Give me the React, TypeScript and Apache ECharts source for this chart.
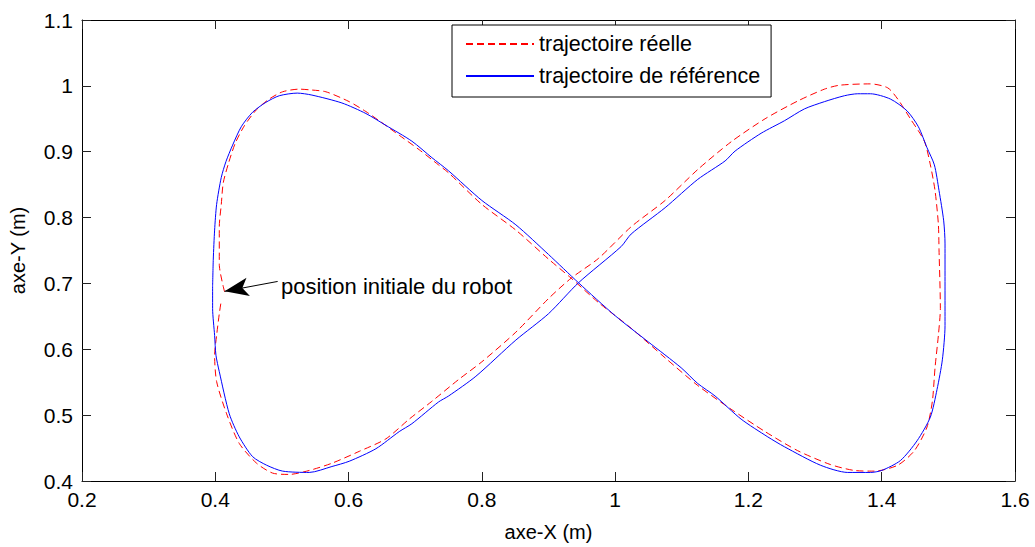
import React, { useEffect, useRef } from "react";
import * as echarts from "echarts";

const FONT = "'Liberation Sans', Arial, Helvetica, sans-serif";

const seriesNames = ["trajectoire réelle", "trajectoire de référence"];
const axisNames = { x: "axe-X (m)", y: "axe-Y (m)" };
const xRange = { min: 0.2, max: 1.6, interval: 0.2 };
const yRange = { min: 0.4, max: 1.1, interval: 0.1 };

// trajectoire réelle (red dashed), [x, y]
const realX = [
  0.414, 0.406, 0.406, 0.409, 0.412, 0.42, 0.43, 0.444, 0.462, 0.481, 0.501, 0.526, 0.541, 0.566,
  0.601, 0.626, 0.646, 0.676, 0.706, 0.735, 0.75, 0.8, 0.851, 0.9, 0.934, 0.975, 1.024, 1.075,
  1.124, 1.174, 1.225, 1.274, 1.323, 1.359, 1.389, 1.424, 1.449, 1.468, 1.476, 1.48, 1.485, 1.488,
  1.486, 1.485, 1.48, 1.473, 1.464, 1.443, 1.424, 1.409, 1.383, 1.337, 1.314, 1.274, 1.225, 1.174,
  1.124, 1.075, 1.024, 0.975, 0.934, 0.9, 0.851, 0.8, 0.765, 0.725, 0.691, 0.656, 0.616, 0.575,
  0.541, 0.511, 0.486, 0.462, 0.436, 0.417, 0.402, 0.399, 0.402, 0.406, 0.409,
];
const realY = [
  0.687, 0.729, 0.786, 0.82, 0.853, 0.883, 0.913, 0.94, 0.964, 0.98, 0.991, 0.995, 0.994, 0.991,
  0.976, 0.961, 0.947, 0.925, 0.903, 0.88, 0.868, 0.82, 0.781, 0.737, 0.708, 0.671, 0.632, 0.587,
  0.545, 0.509, 0.475, 0.446, 0.425, 0.416, 0.415, 0.424, 0.446, 0.482, 0.521, 0.572, 0.621, 0.662,
  0.751, 0.79, 0.841, 0.88, 0.916, 0.95, 0.98, 0.997, 1.003, 1.001, 0.995, 0.977, 0.95, 0.915,
  0.873, 0.826, 0.786, 0.738, 0.708, 0.677, 0.626, 0.581, 0.554, 0.521, 0.494, 0.464, 0.445, 0.427,
  0.416, 0.41, 0.412, 0.427, 0.457, 0.502, 0.551, 0.591, 0.621, 0.654, 0.674,
];

// trajectoire de référence (blue solid)
const refX = [
  0.396, 0.397, 0.399, 0.402, 0.409, 0.416, 0.426, 0.439, 0.456, 0.476, 0.496, 0.523, 0.545, 0.59,
  0.626, 0.656, 0.695, 0.725, 0.75, 0.8, 0.851, 0.9, 0.945, 1.0, 1.05, 1.099, 1.124, 1.15, 1.189,
  1.229, 1.254, 1.308, 1.349, 1.383, 1.4, 1.428, 1.453, 1.473, 1.483, 1.491, 1.495, 1.495, 1.495,
  1.493, 1.486, 1.479, 1.468, 1.455, 1.438, 1.413, 1.383, 1.364, 1.344, 1.314, 1.284, 1.254, 1.219,
  1.18, 1.165, 1.124, 1.075, 1.024, 1.009, 0.945, 0.9, 0.851, 0.791, 0.75, 0.735, 0.695, 0.676,
  0.641, 0.601, 0.575, 0.541, 0.501, 0.477, 0.456, 0.436, 0.421, 0.406, 0.401, 0.399, 0.396, 0.396,
];
const refY = [
  0.696, 0.737, 0.781, 0.82, 0.861, 0.885, 0.91, 0.938, 0.96, 0.975, 0.985, 0.989, 0.986, 0.974,
  0.958, 0.94, 0.916, 0.891, 0.871, 0.826, 0.789, 0.744, 0.701, 0.651, 0.611, 0.572, 0.548, 0.529,
  0.494, 0.467, 0.452, 0.424, 0.413, 0.413, 0.416, 0.431, 0.461, 0.497, 0.539, 0.584, 0.636, 0.696,
  0.76, 0.795, 0.841, 0.88, 0.906, 0.938, 0.962, 0.98, 0.988, 0.988, 0.985, 0.976, 0.965, 0.947,
  0.928, 0.901, 0.886, 0.858, 0.815, 0.775, 0.756, 0.701, 0.654, 0.614, 0.559, 0.529, 0.52, 0.487,
  0.475, 0.449, 0.43, 0.422, 0.413, 0.415, 0.424, 0.437, 0.467, 0.502, 0.566, 0.591, 0.621, 0.662,
  0.696,
];

// annotation: arrow from label to the initial position
const annotationText = "position initiale du robot";
const arrowFrom = [0.4936, 0.703];
const arrowTo = [0.414, 0.688];

const zip = (xs: number[], ys: number[]) => xs.map((x, i) => [x, ys[i]]);

export default function App() {
  const ref = useRef<HTMLDivElement>(null);

  useEffect(() => {
    if (!ref.current) return;
    const chart = echarts.init(ref.current, null, { renderer: "svg" });

    const axisCommon = {
      type: "value" as const,
      axisLine: { show: true, onZero: false, lineStyle: { color: "#000", width: 1 } },
      axisTick: { show: true, inside: true, length: 9, lineStyle: { color: "#222", width: 1 } },
      splitLine: { show: false },
    };
    const labelStyle = { color: "#000", fontSize: 21, fontFamily: FONT };

    chart.setOption({
      animation: false,
      backgroundColor: "#fff",
      grid: { left: 82, right: 20, top: 20, bottom: 59, containLabel: false },
      xAxis: [
        {
          ...axisCommon,
          position: "bottom",
          min: xRange.min,
          max: xRange.max,
          interval: xRange.interval,
          axisLabel: { ...labelStyle, margin: 8, showMinLabel: true, showMaxLabel: true },
          name: axisNames.x,
          nameLocation: "middle",
          nameGap: 41,
          nameTextStyle: { color: "#000", fontSize: 20, fontFamily: FONT },
        },
        {
          ...axisCommon,
          position: "top",
          min: xRange.min,
          max: xRange.max,
          interval: xRange.interval,
          axisLabel: { show: false },
        },
      ],
      yAxis: [
        {
          ...axisCommon,
          position: "left",
          min: yRange.min,
          max: yRange.max,
          interval: yRange.interval,
          axisLabel: { ...labelStyle, margin: 9, showMinLabel: true, showMaxLabel: true },
          name: axisNames.y,
          nameLocation: "middle",
          nameGap: 54,
          nameTextStyle: { color: "#000", fontSize: 20, fontFamily: FONT },
        },
        {
          ...axisCommon,
          position: "right",
          min: yRange.min,
          max: yRange.max,
          interval: yRange.interval,
          axisLabel: { show: false },
        },
      ],
      legend: {
        data: seriesNames,
        orient: "vertical",
        left: 452,
        top: 25,
        itemWidth: 68,
        itemHeight: 10,
        itemGap: 10,
        padding: [8, 11, 10, 13],
        borderColor: "#000",
        borderWidth: 1,
        backgroundColor: "#fff",
        itemStyle: { opacity: 0, color: "transparent", borderWidth: 0 },
        textStyle: { color: "#000", fontSize: 21.5, fontFamily: FONT },
      },
      series: [
        {
          name: seriesNames[0],
          type: "line",
          data: zip(realX, realY),
          symbol: "none",
          smooth: 0.25,
          color: "#ff0000",
          lineStyle: { color: "#ff0000", width: 1, type: [7, 4] },
          z: 2,
          markLine: {
            silent: true,
            symbol: ["none", "arrow"],
            symbolSize: [14, 24],
            label: { show: false },
            lineStyle: { color: "#000", width: 1, type: "solid" },
            itemStyle: { color: "#000" },
            data: [[{ coord: arrowFrom }, { coord: arrowTo }]],
          },
        },
        {
          name: seriesNames[1],
          type: "line",
          data: zip(refX, refY),
          symbol: "none",
          smooth: 0.25,
          color: "#0000ff",
          lineStyle: { color: "#0000ff", width: 1, type: "solid" },
          z: 3,
        },
      ],
      graphic: [
        {
          type: "text",
          left: 281,
          top: 275,
          style: {
            text: annotationText,
            fontSize: 22,
            fontFamily: FONT,
            fill: "#000",
          },
        },
      ],
    });

    return () => chart.dispose();
  }, []);

  return (
    <div
      ref={ref}
      style={{ position: "absolute", left: 0, top: 0, width: 1035, height: 547, background: "#fff" }}
    />
  );
}
